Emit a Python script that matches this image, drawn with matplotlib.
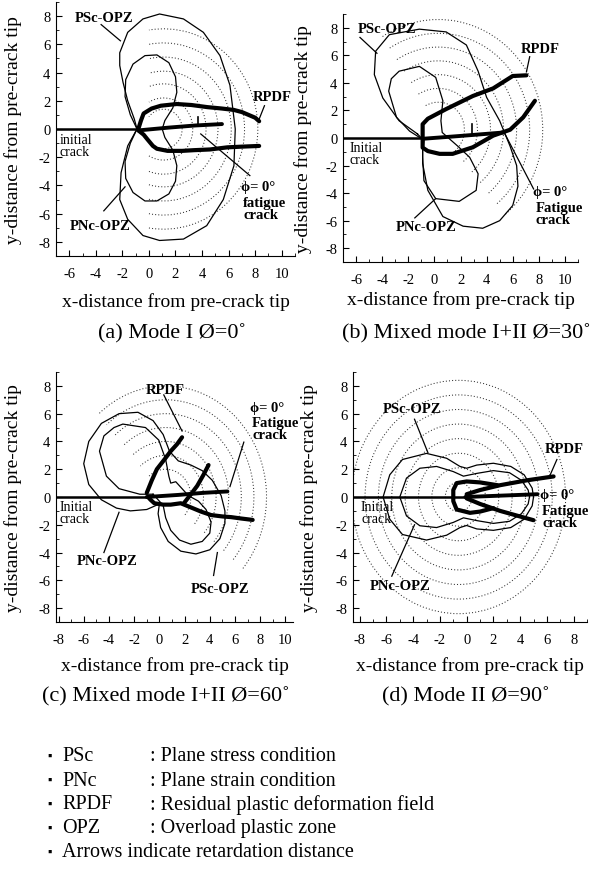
import numpy as np
import matplotlib
matplotlib.use('Agg')
import matplotlib.pyplot as plt
from matplotlib.patches import Arc
from matplotlib.ticker import MultipleLocator

plt.rcParams['font.family'] = ['Liberation Serif', 'DejaVu Serif']
plt.rcParams['axes.unicode_minus'] = False

# ---------------- panel (a) : Mode I ----------------
a_psc_x = [-0.9, -1.1, -1.6, -1.95, -2.2, -2.2, -1.6, -0.45, 0.8, 2.6, 4.1, 5.35, 6.1, 6.5, 6.4, 5.6, 4.35, 2.6, 0.8, -0.45, -1.6, -2.2, -2.1, -1.6, -0.9]
a_psc_y = [0.0, 0.7, 2.0, 3.3, 4.5, 5.4, 6.85, 7.8, 8.15, 7.8, 6.85, 5.2, 3.1, 0.0, -2.6, -5.0, -6.85, -7.8, -7.9, -7.55, -6.4, -5.0, -3.1, -1.2, 0.0]
a_pnc_x = [-0.9, -1.4, -1.8, -1.75, -1.2, -0.3, 0.6, 1.5, 2.0, 2.1, 1.8, 1.2, 1.0, 1.2, 1.8, 2.1, 2.0, 1.5, 0.6, -0.3, -1.2, -1.75, -1.8, -1.4, -0.9]
a_pnc_y = [0.0, 1.0, 2.3, 3.5, 4.6, 5.2, 5.25, 4.7, 3.7, 2.6, 1.5, 0.6, 0.0, -0.6, -1.5, -2.6, -3.7, -4.6, -5.1, -5.1, -4.5, -3.5, -2.3, -1.0, 0.0]
a_rpdf_up_x = [-0.8, -0.6, -0.4, 0.2, 0.9, 2.1, 3.2, 4.4, 5.5, 6.4, 7.0, 7.5, 8.0, 8.3]
a_rpdf_up_y = [0.0, 0.6, 1.1, 1.45, 1.65, 1.77, 1.7, 1.55, 1.45, 1.35, 1.2, 1.0, 0.8, 0.55]
a_rpdf_lo_x = [-0.8, -0.4, -0.1, 0.3, 0.6, 1.4, 2.5, 3.4, 4.6, 5.9, 7.0, 8.3]
a_rpdf_lo_y = [-0.1, -0.4, -0.75, -1.2, -1.4, -1.55, -1.55, -1.5, -1.45, -1.3, -1.25, -1.2]
a_fc_x = [-0.8, 1.5, 3.5, 5.5]
a_fc_y = [-0.1, 0.1, 0.25, 0.35]
a_arrow = [3.7, 0.25, 0.85]
a_tip = -0.8
a_arc_c = (1.1, 0.0)
a_arc_r = [1.4, 2.2, 3.2, 4.1, 5.1, 6.1, 7.1]

# ---------------- panel (b) : phi = 30 ----------------
b_psc_x = [-1.3, -2.7, -3.95, -4.6, -4.5, -3.45, -1.15, 0.9, 2.45, 3.35, 4.0, 5.0, 5.8, 6.3, 6.4, 6.0, 5.0, 3.7, 2.2, 0.65, -0.5, -0.9, -0.9, -0.8, -1.3]
b_psc_y = [0.3, 1.25, 2.9, 4.6, 6.3, 7.5, 7.9, 7.7, 6.75, 4.85, 2.95, 1.25, -0.6, -2.0, -3.5, -4.9, -6.0, -6.55, -6.4, -5.7, -3.8, -1.85, -0.9, -0.2, 0.3]
b_pnc_x = [-0.9, -1.9, -2.9, -3.5, -3.3, -2.7, -1.15, 0.1, 0.65, 0.5, 0.6, 1.8, 2.7, 3.35, 3.2, 1.9, 0.1, -0.8, -0.9, -0.9]
b_pnc_y = [-0.1, 0.5, 1.5, 3.4, 4.3, 4.85, 5.2, 4.4, 2.7, 1.25, 0.4, -0.6, -1.4, -2.6, -3.8, -4.6, -4.4, -3.1, -1.4, -0.1]
b_rpdf_x = [7.05, 6.0, 4.5, 2.95, 0.9, -0.5, -0.9, -0.9, -0.5, 0.4, 1.4, 2.95, 4.5, 5.8, 6.8, 7.7]
b_rpdf_y = [4.55, 4.5, 3.6, 3.05, 2.1, 1.4, 1.0, -0.7, -0.95, -1.15, -1.15, -0.67, 0.17, 0.6, 1.5, 2.7]
b_fc_x = [-0.8, 2.0, 5.3]
b_fc_y = [-0.05, 0.15, 0.4]
b_arrow = [2.85, 0.3, 1.0]
b_tip = -0.8
b_arc_c = (0.3, 0.6)
b_arc_r = [2, 3, 4, 5, 6, 7, 8]

# ---------------- panel (c) : phi = 60 ----------------
c_psc_x = [0.0, -1.0, -2.3, -3.4, -4.6, -5.6, -6.0, -5.6, -4.6, -3.2, -1.7, -0.5, 0.3, 0.8, 1.5, 2.5, 3.4, 4.2, 4.9, 5.2, 5.2, 4.8, 4.0, 2.9, 1.7, 0.7, 0.1, -0.1, 0.0]
c_psc_y = [-0.5, -0.9, -1.0, -0.8, -0.2, 0.9, 2.4, 4.0, 5.3, 6.0, 6.1, 5.5, 4.5, 3.3, 2.6, 2.3, 1.9, 1.2, 0.1, -1.0, -1.9, -3.0, -3.8, -4.1, -3.9, -3.2, -2.2, -1.2, -0.5]
c_pnc_x = [-0.5, -1.55, -3.2, -4.2, -4.75, -4.4, -3.6, -2.9, -1.1, -0.05, 0.5, 0.75, 0.9, 1.3, 1.8, 2.3, 3.1, 3.7, 4.1, 4.0, 3.4, 2.5, 1.6, 0.9, 0.5, 0.3, -0.5]
c_pnc_y = [0.2, 0.2, 0.6, 1.5, 3.3, 4.4, 5.0, 5.25, 5.0, 4.1, 2.7, 1.5, 1.0, 1.1, 0.6, 0.1, -0.3, -0.9, -1.8, -2.6, -3.2, -3.4, -3.1, -2.4, -1.5, -0.6, 0.2]
c_rpdf1_x = [-1.0, -0.6, -0.2, 0.4, 0.9, 1.4, 1.8]
c_rpdf1_y = [0.3, 1.2, 2.0, 2.7, 3.3, 3.8, 4.3]
c_rpdf2_x = [1.9, 2.5, 3.0, 3.5, 3.9]
c_rpdf2_y = [-0.5, 0.2, 0.8, 1.6, 2.3]
c_rpdf3_x = [-0.9, -0.7, -0.4, 0.3, 0.9, 1.7, 2.5, 3.3, 4.1, 5.0, 5.7, 6.5, 7.4]
c_rpdf3_y = [0.0, -0.2, -0.45, -0.55, -0.55, -0.45, -0.75, -1.05, -1.3, -1.4, -1.45, -1.55, -1.65]
c_fc_x = [-1.0, 1.5, 3.5, 5.4]
c_fc_y = [0.0, 0.15, 0.3, 0.4]
c_tip = -1.0
c_arc_c = (0.5, 0.0)
c_arc_r = [2, 3, 4, 5, 6, 7, 8]

# ---------------- panel (d) : Mode II ----------------
d_psc_x = [5.0, 4.9, 4.3, 3.3, 2.0, 0.76, 0.0, -0.5, -1.5, -3.0, -4.8, -5.75, -6.25, -5.75, -4.8, -3.0, -1.5, -0.5, 0.0, 0.76, 2.0, 3.3, 4.3, 4.9, 5.0]
d_psc_y = [0.0, 0.64, 1.6, 2.2, 2.43, 2.3, 2.07, 2.2, 2.79, 3.14, 2.7, 1.6, 0.0, -1.6, -2.7, -3.1, -2.75, -2.2, -2.05, -2.3, -2.4, -2.2, -1.6, -0.64, 0.0]
d_pnc_x = [4.7, 4.6, 4.1, 3.2, 2.0, 0.76, -0.24, -1.0, -2.25, -3.5, -4.5, -5.0, -4.5, -3.5, -2.25, -1.0, -0.24, 0.76, 2.0, 3.2, 4.1, 4.6, 4.7]
d_pnc_y = [0.0, 0.5, 1.2, 1.75, 1.9, 1.7, 1.5, 1.83, 2.2, 2.07, 1.36, 0.0, -1.36, -2.07, -2.2, -1.83, -1.5, -1.7, -1.9, -1.75, -1.2, -0.5, 0.0]
d_rpdf_up_x = [0.0, 1.0, 2.5, 4.5, 6.5]
d_rpdf_up_y = [0.2, 0.5, 0.85, 1.2, 1.48]
d_rpdf_lo_x = [0.0, 1.0, 2.5, 3.8, 5.0]
d_rpdf_lo_y = [-0.1, -0.5, -1.0, -1.35, -1.67]
d_loop_x = [2.3, 1.0, 0.0, -0.75, -1.0, -1.0, -0.75, 0.25, 1.0, 2.0]
d_loop_y = [0.85, 1.05, 1.12, 1.0, 0.5, -0.3, -0.9, -1.14, -1.05, -0.8]
d_fc_x = [-0.1, 5.3]
d_fc_y = [0.0, 0.2]
d_tip = -0.1
d_arc_c = (-0.6, 0.0)
d_arc_r = [1, 2, 3, 4, 5, 6, 7, 8]

captions = ['(a) Mode I \u00d8=0\u02da', '(b) Mixed mode I+II \u00d8=30\u02da',
            '(c) Mixed mode I+II \u00d8=60\u02da', '(d) Mode II \u00d8=90\u02da']

legend_keys = ['PSc', 'PNc', 'RPDF', 'OPZ']
legend_desc = ['Plane stress condition', 'Plane strain condition',
               'Residual plastic deformation field', 'Overload plastic zone']
legend_last = 'Arrows indicate retardation distance'

W, H = 598, 879
fig = plt.figure(figsize=(W / 100, H / 100), dpi=100)


def box(l, t, r, b):
    return [l / W, 1 - b / H, (r - l) / W, (b - t) / H]


ax_a = fig.add_axes(box(56, 3, 295, 257))
ax_b = fig.add_axes(box(343, 15, 578, 263))
ax_c = fig.add_axes(box(56, 373, 293, 623))
ax_d = fig.add_axes(box(353, 373, 587, 623))

dot = (0, (1, 2.0))
bold = dict(fontsize=10.5, fontweight='bold')


def setup(ax, xlim, xticks, ylx, xly):
    ax.set_xlim(*xlim)
    ax.set_ylim(-9, 9)
    ax.set_xticks(xticks)
    ax.set_yticks(range(-8, 9, 2))
    ax.xaxis.set_minor_locator(MultipleLocator(1))
    ax.yaxis.set_minor_locator(MultipleLocator(1))
    ax.tick_params(which='both', direction='in', labelsize=10.5)
    ax.tick_params(axis='x', which='both', pad=8)
    ax.tick_params(axis='y', which='both', pad=4)
    ax.tick_params(which='major', length=4)
    ax.tick_params(which='minor', length=2)
    for s in ['top', 'right']:
        ax.spines[s].set_visible(False)
    ax.set_xlabel('x-distance from pre-crack tip', fontsize=14)
    ax.set_ylabel('y-distance from pre-crack tip', fontsize=14)
    ax.yaxis.set_label_coords(ylx, 0.5)
    ax.xaxis.set_label_coords(0.5, xly)


def arcs(ax, c, radii, t1, t2, stretch=1.0, auto=False):
    for r in radii:
        a1, a2 = t1, t2
        if auto:
            a2 = np.degrees(np.arccos(-c[0] / r)) if r > c[0] else 90
            a1 = -a2
        ax.add_patch(Arc(c, 2 * r, 2 * r * stretch, theta1=a1, theta2=a2,
                         lw=0.75, ls=dot, color='#333333'))


def crack(ax, tip, xl):
    ax.plot([xl, tip], [0, 0], color='k', lw=1.8, solid_capstyle='butt')


def contour(ax, x, y):
    ax.plot(x, y, color='k', lw=0.9, solid_joinstyle='round')


def thick(ax, x, y, lw=3.0):
    ax.plot(x, y, color='k', lw=lw, solid_joinstyle='round', solid_capstyle='round')


def lead(ax, p0, p1):
    ax.plot([p0[0], p1[0]], [p0[1], p1[1]], color='k', lw=0.9)


def phi_label(ax, x, y, word):
    ax.text(x, y, '\u03d5= 0\u00b0', ha='left', va='center', **bold)
    ax.text(x + 0.2, y - 0.65, word, ha='left', va='top', fontsize=10.5,
            fontweight='bold', linespacing=0.9)


def init_label(ax, x, y, txt):
    ax.text(x, y, txt, ha='left', va='top', fontsize=10, linespacing=0.9)


# ---- (a)
ax = ax_a
setup(ax, (-7, 11), range(-6, 11, 2), -0.142, -0.142)
arcs(ax, a_arc_c, a_arc_r, 0, 0, stretch=1.0, auto=True)
crack(ax, a_tip, -7)
contour(ax, a_psc_x, a_psc_y)
contour(ax, a_pnc_x, a_pnc_y)
thick(ax, a_rpdf_up_x, a_rpdf_up_y)
thick(ax, a_rpdf_lo_x, a_rpdf_lo_y)
thick(ax, a_fc_x, a_fc_y, 2.8)
ax.plot([a_arrow[0]] * 2, a_arrow[1:], color='k', lw=1.2)
ax.text(-3.4, 7.9, 'PSc-OPZ', ha='center', va='center', **bold)
lead(ax, (-3.6, 7.4), (-2.15, 6.25))
ax.text(9.3, 2.3, 'RPDF', ha='center', va='center', **bold)
lead(ax, (8.7, 1.65), (8.3, 0.7))
ax.text(-3.7, -6.85, 'PNc-OPZ', ha='center', va='center', **bold)
lead(ax, (-3.4, -5.8), (-1.8, -4.1))
phi_label(ax, 6.9, -4.1, 'fatigue\ncrack')
lead(ax, (7.6, -3.3), (3.9, -0.35))
init_label(ax, -6.7, -0.3, 'initial\ncrack')

# ---- (b)
ax = ax_b
setup(ax, (-7, 11), range(-6, 11, 2), -0.132, -0.113)
arcs(ax, b_arc_c, b_arc_r, -50, 123)
crack(ax, b_tip, -7)
contour(ax, b_psc_x, b_psc_y)
contour(ax, b_pnc_x, b_pnc_y)
thick(ax, b_rpdf_x, b_rpdf_y)
thick(ax, b_fc_x, b_fc_y, 2.8)
ax.plot([b_arrow[0]] * 2, b_arrow[1:], color='k', lw=1.2)
ax.text(-3.6, 7.95, 'PSc-OPZ', ha='center', va='center', **bold)
lead(ax, (-5.7, 7.3), (-4.4, 6.15))
ax.text(8.1, 6.5, 'RPDF', ha='center', va='center', **bold)
lead(ax, (7.3, 5.9), (7.05, 4.8))
ax.text(-0.6, -6.4, 'PNc-OPZ', ha='center', va='center', **bold)
lead(ax, (-1.5, -5.8), (0.1, -4.4))
phi_label(ax, 7.55, -3.9, 'Fatigue\ncrack')
lead(ax, (7.6, -3.7), (5.4, 0.3))
init_label(ax, -6.5, -0.2, 'Initial\ncrack')

# ---- (c)
ax = ax_c
setup(ax, (-8.2, 10.6), range(-8, 11, 2), -0.142, -0.135)
arcs(ax, c_arc_c, c_arc_r, -40, 132)
crack(ax, c_tip, -8.2)
contour(ax, c_psc_x, c_psc_y)
contour(ax, c_pnc_x, c_pnc_y)
thick(ax, c_rpdf1_x, c_rpdf1_y)
thick(ax, c_rpdf2_x, c_rpdf2_y)
thick(ax, c_rpdf3_x, c_rpdf3_y)
thick(ax, c_fc_x, c_fc_y, 2.8)
ax.text(0.5, 7.75, 'RPDF', ha='center', va='center', **bold)
lead(ax, (0.35, 7.35), (1.8, 4.75))
phi_label(ax, 7.15, 6.45, 'Fatigue\ncrack')
lead(ax, (6.7, 3.95), (5.6, 0.75))
ax.text(-4.15, -4.6, 'PNc-OPZ', ha='center', va='center', **bold)
lead(ax, (-4.4, -4.0), (-3.2, -1.1))
ax.text(4.85, -6.6, 'PSc-OPZ', ha='center', va='center', **bold)
lead(ax, (4.3, -5.65), (4.6, -4.0))
init_label(ax, -7.9, -0.25, 'Initial\ncrack')

# ---- (d)
ax = ax_d
setup(ax, (-8.5, 9), range(-8, 9, 2), -0.15, -0.135)
arcs(ax, d_arc_c, d_arc_r, 0, 360, stretch=1.05)
crack(ax, d_tip, -8.5)
contour(ax, d_psc_x, d_psc_y)
contour(ax, d_pnc_x, d_pnc_y)
thick(ax, d_rpdf_up_x, d_rpdf_up_y)
thick(ax, d_rpdf_lo_x, d_rpdf_lo_y)
thick(ax, d_loop_x, d_loop_y)
thick(ax, d_fc_x, d_fc_y, 2.8)
ax.text(-4.1, 6.4, 'PSc-OPZ', ha='center', va='center', **bold)
lead(ax, (-3.9, 5.6), (-2.9, 3.2))
ax.text(7.3, 3.5, 'RPDF', ha='center', va='center', **bold)
lead(ax, (6.75, 2.7), (6.25, 1.6))
ax.text(-5.0, -6.4, 'PNc-OPZ', ha='center', va='center', **bold)
lead(ax, (-5.6, -5.7), (-3.9, -2.0))
phi_label(ax, 5.45, 0.15, 'Fatigue\ncrack')
init_label(ax, -7.9, -0.25, 'Initial\ncrack')

# captions
cap_pos = [(172, 334), (466, 334), (166, 697), (466, 697)]
for (cx, cy), cap in zip(cap_pos, captions):
    fig.text(cx / W, 1 - cy / H, cap, ha='center', va='center', fontsize=16)

# legend list at the bottom
rows = [757, 781, 805, 829]
for yy, k, d in zip(rows, legend_keys, legend_desc):
    fig.text(50 / W, 1 - yy / H, '\u25aa', ha='center', va='center', fontsize=9)
    fig.text(62 / W, 1 - yy / H, k, ha='left', va='center', fontsize=14.5)
    fig.text(150 / W, 1 - yy / H, ': ' + d, ha='left', va='center', fontsize=14.5)
fig.text(50 / W, 1 - 853 / H, '\u25aa', ha='center', va='center', fontsize=9)
fig.text(62 / W, 1 - 853 / H, legend_last, ha='left', va='center', fontsize=14.5)

fig.savefig('out.png', dpi=100)
